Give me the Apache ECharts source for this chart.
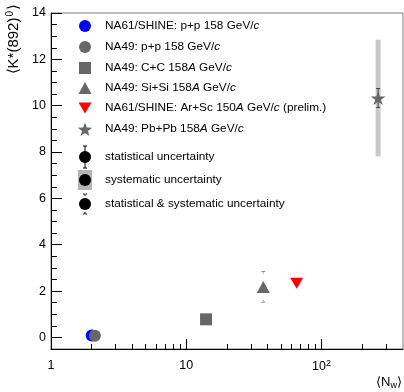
<!DOCTYPE html>
<html><head><meta charset="utf-8">
<script src="https://cdn.jsdelivr.net/npm/echarts@6/dist/echarts.min.js"></script>
<style>html,body{margin:0;padding:0;background:#fff}#c{width:404px;height:392px}</style>
</head><body><div id="c"></div>
<script>
// ---- data ----
const seriesNames = [
  'NA61/SHINE: p+p 158 GeV/c',
  'NA49: p+p 158 GeV/c',
  'NA49: C+C 158A GeV/c',
  'NA49: Si+Si 158A GeV/c',
  'NA61/SHINE: Ar+Sc 150A GeV/c (prelim.)',
  'NA49: Pb+Pb 158A GeV/c'
];
const nW      = [2.0, 2.11, 14.0, 37.1, 65.5, 262];
const kStar   = [0.078, 0.074, 0.78, 2.18, 2.34, 10.33];
const statErr = [0, 0, 0, 0, 0, 0.41];
const sysErr  = [0, 0, 0, 0, 0, 2.52];
const totErr  = [0, 0, 0, 0.66, 0, 0];
const xMajorTicks = [1, 10, 100];
const xMinorTicks = [2,3,4,5,6,7,8,9,20,30,40,50,60,70,80,90,200,300];
const yMajorTicks = [0,2,4,6,8,10,12,14];
const yMinorTicks = [0.5,1,1.5,2.5,3,3.5,4.5,5,5.5,6.5,7,7.5,8.5,9,9.5,10.5,11,11.5,12.5,13,13.5];

const FONT = '"Liberation Sans", Arial, Helvetica, sans-serif';
const GRAY = '#676767';
const STAR = 'path://M50,0 L61.2,34.5 L97.6,34.5 L68.2,55.9 L79.4,90.5 L50,69.1 L20.6,90.5 L31.8,55.9 L2.4,34.5 L38.8,34.5 Z';
const symbols = ['circle','circle','rect','triangle','triangle',STAR];
const symRot = [0,0,0,0,180,0];
const symSizes = [12,12,12,[13,12],[13,11],[15,14]];
const colors = ['#0000ff',GRAY,GRAY,GRAY,'#ff0000',GRAY];

const chart = echarts.init(document.getElementById('c'), null, {renderer:'canvas'});

const errData = nW.map((x,i)=>[x,kStar[i],statErr[i],sysErr[i],totErr[i]]);

const series = [];
series.push({
  type:'custom', xAxisIndex:0, yAxisIndex:0, z:1, silent:true,
  data: errData,
  renderItem: function(params, api){
    const x = api.value(0), y = api.value(1), st = api.value(2), sy = api.value(3), tot = api.value(4);
    const children = [];
    if (sy > 0) {
      const p1 = api.coord([x, y+sy]), p2 = api.coord([x, y-sy]);
      children.push({type:'rect', shape:{x:p1[0]-2.5, y:p1[1], width:5, height:p2[1]-p1[1]}, style:{fill:'#c8c8c8'}});
    }
    if (st > 0) {
      const p1 = api.coord([x, y+st]), p2 = api.coord([x, y-st]);
      children.push({type:'line', shape:{x1:p1[0], y1:p1[1], x2:p2[0], y2:p2[1]}, style:{stroke:'#444', lineWidth:1}});
      children.push({type:'line', shape:{x1:p1[0]-2, y1:p1[1], x2:p1[0]+2, y2:p1[1]}, style:{stroke:'#444', lineWidth:1}});
      children.push({type:'line', shape:{x1:p2[0]-2, y1:p2[1], x2:p2[0]+2, y2:p2[1]}, style:{stroke:'#444', lineWidth:1}});
    }
    if (tot > 0) {
      const p1 = api.coord([x, y+tot]), p2 = api.coord([x, y-tot]);
      children.push({type:'line', shape:{x1:p1[0]-2, y1:p1[1], x2:p1[0]+2, y2:p1[1]}, style:{stroke:'#888', lineWidth:1}});
      children.push({type:'line', shape:{x1:p1[0], y1:p1[1]+1, x2:p1[0], y2:p1[1]+2}, style:{stroke:'#888', lineWidth:1}});
      children.push({type:'line', shape:{x1:p2[0]-2, y1:p2[1], x2:p2[0]+2, y2:p2[1]}, style:{stroke:'#888', lineWidth:1}});
      children.push({type:'line', shape:{x1:p2[0], y1:p2[1]-1, x2:p2[0], y2:p2[1]-2}, style:{stroke:'#888', lineWidth:1}});
    }
    return {type:'group', children};
  }
});
seriesNames.forEach((n,i)=>{
  series.push({
    type:'scatter', name:n, xAxisIndex:0, yAxisIndex:0, z:2+i,
    symbol: symbols[i], symbolRotate: symRot[i], symbolSize: symSizes[i],
    itemStyle:{color: colors[i], opacity:1},
    data:[[nW[i], kStar[i]]]
  });
});

// legend
const legendRows = [
  'NA61/SHINE: p+p 158 GeV/{i|c}',
  'NA49: p+p 158 GeV/{i|c}',
  'NA49: C+C 158{i|A} GeV/{i|c}',
  'NA49: Si+Si 158{i|A} GeV/{i|c}',
  'NA61/SHINE: Ar+Sc 150{i|A} GeV/{i|c} (prelim.)',
  'NA49: Pb+Pb 158{i|A} GeV/{i|c}',
  'statistical uncertainty',
  'systematic uncertainty',
  'statistical & systematic uncertainty'
];
const legendY = [26, 47, 68, 88, 108, 129, 157, 180, 204];
const LX = 85, TX = 105, LFS = 11.8;
const g = [];
const rich = {i:{fontStyle:'italic', fontSize:LFS, fontFamily:FONT, fill:'#000'}};
legendRows.forEach((t,i)=>{
  g.push({type:'text', x:TX, y:legendY[i], style:{text:t, font:LFS+'px '+FONT, fill:'#000', verticalAlign:'middle', rich}, z:10});
});
g.push({type:'circle', shape:{cx:LX, cy:legendY[0], r:6}, style:{fill:'#0000ff'}});
g.push({type:'circle', shape:{cx:LX, cy:legendY[1], r:6}, style:{fill:GRAY}});
g.push({type:'rect', shape:{x:LX-6, y:legendY[2]-6, width:12, height:12}, style:{fill:GRAY}});
g.push({type:'polygon', shape:{points:[[LX,legendY[3]-6],[LX+6.5,legendY[3]+6],[LX-6.5,legendY[3]+6]]}, style:{fill:GRAY}});
g.push({type:'polygon', shape:{points:[[LX-6.5,legendY[4]-5.5],[LX+6.5,legendY[4]-5.5],[LX,legendY[4]+5.5]]}, style:{fill:'#ff0000'}});
(function(){
  const cy = legendY[5], pts=[];
  for (let k=0;k<10;k++){ const r = k%2===0?7.5:3.1; const a = -Math.PI/2 + k*Math.PI/5; pts.push([LX+r*Math.cos(a), cy+1+r*Math.sin(a)]); }
  g.push({type:'polygon', shape:{points:pts}, style:{fill:GRAY}});
})();
g.push({type:'line', shape:{x1:LX,y1:legendY[6]-11,x2:LX,y2:legendY[6]+11}, style:{stroke:'#000',lineWidth:1}});
g.push({type:'line', shape:{x1:LX-2,y1:legendY[6]-11,x2:LX+2,y2:legendY[6]-11}, style:{stroke:'#000',lineWidth:1}});
g.push({type:'line', shape:{x1:LX-2,y1:legendY[6]+11,x2:LX+2,y2:legendY[6]+11}, style:{stroke:'#000',lineWidth:1}});
g.push({type:'circle', shape:{cx:LX, cy:legendY[6], r:6}, style:{fill:'#000'}});
g.push({type:'rect', shape:{x:LX-7, y:legendY[7]-10, width:14, height:20}, style:{fill:'#b4b4b4'}});
g.push({type:'circle', shape:{cx:LX, cy:legendY[7], r:6}, style:{fill:'#000'}});
[-10,10].forEach(d=>{
  const yy = legendY[8]+d;
  g.push({type:'line', shape:{x1:LX-2,y1:yy,x2:LX+2,y2:yy}, style:{stroke:'#000',lineWidth:1, lineDash:[1.5,1]}});
  g.push({type:'line', shape:{x1:LX,y1:yy,x2:LX,y2:yy - Math.sign(d)*2}, style:{stroke:'#000',lineWidth:1}});
});
g.push({type:'circle', shape:{cx:LX, cy:legendY[8], r:6}, style:{fill:'#000'}});
// axis titles
g.push({type:'text', x:14, y:4, rotation:Math.PI/2, style:{text:'⟨K*(892){sup|0}⟩', font:'15px '+FONT, fill:'#000', align:'right', verticalAlign:'middle',
  rich:{sup:{fontSize:10, fontFamily:FONT, fill:'#000', padding:[0,1,8,1]}}}});
g.push({type:'text', x:402, y:382, style:{text:'⟨N{s|w}⟩', font:'13px '+FONT, fill:'#000', align:'right', verticalAlign:'middle', rich:{s:{fontSize:9, fontFamily:FONT, fill:'#000', padding:[7,0,0,0]}}}});

const option = {
  animation:false,
  backgroundColor:'#fff',
  grid:{left:51, right:1, top:13, bottom:43, show:true, borderColor:'#7a7a7a', borderWidth:1, backgroundColor:'transparent'},
  xAxis:[
    {type:'log', logBase:10, min:1, max:400, position:'bottom',
     axisLine:{show:true, onZero:false, lineStyle:{color:'#000', width:1}},
     axisTick:{show:true, inside:true, length:10, customValues:xMajorTicks, lineStyle:{color:'#000'}},
     axisLabel:{show:true, customValues:xMajorTicks, margin:10, fontSize:12.5, fontFamily:FONT, color:'#000',
       formatter:function(v){ if (Math.abs(v-100)<1e-6) return '10{s|2}'; return String(Math.round(v)); },
       rich:{s:{fontSize:9, fontFamily:FONT, color:'#000', padding:[0,0,7,0]}}},
     splitLine:{show:false}, minorTick:{show:false}},
    {type:'log', logBase:10, min:1, max:400, position:'bottom',
     axisLine:{show:false, onZero:false},
     axisTick:{show:true, inside:true, length:5, customValues:xMinorTicks, lineStyle:{color:'#000'}},
     axisLabel:{show:false}, splitLine:{show:false}}
  ],
  yAxis:[
    {type:'value', min:-0.5, max:14, position:'left',
     axisLine:{show:true, onZero:false, lineStyle:{color:'#000', width:1}},
     axisTick:{show:true, inside:true, length:11, customValues:yMajorTicks, lineStyle:{color:'#000'}},
     axisLabel:{show:true, customValues:yMajorTicks, margin:5, fontSize:12.5, fontFamily:FONT, color:'#000'},
     splitLine:{show:false}},
    {type:'value', min:-0.5, max:14, position:'left',
     axisLine:{show:false, onZero:false},
     axisTick:{show:true, inside:true, length:6, customValues:yMinorTicks, lineStyle:{color:'#000'}},
     axisLabel:{show:false}, splitLine:{show:false}}
  ],
  series: series,
  graphic: g
};
chart.setOption(option);
</script></body></html>
